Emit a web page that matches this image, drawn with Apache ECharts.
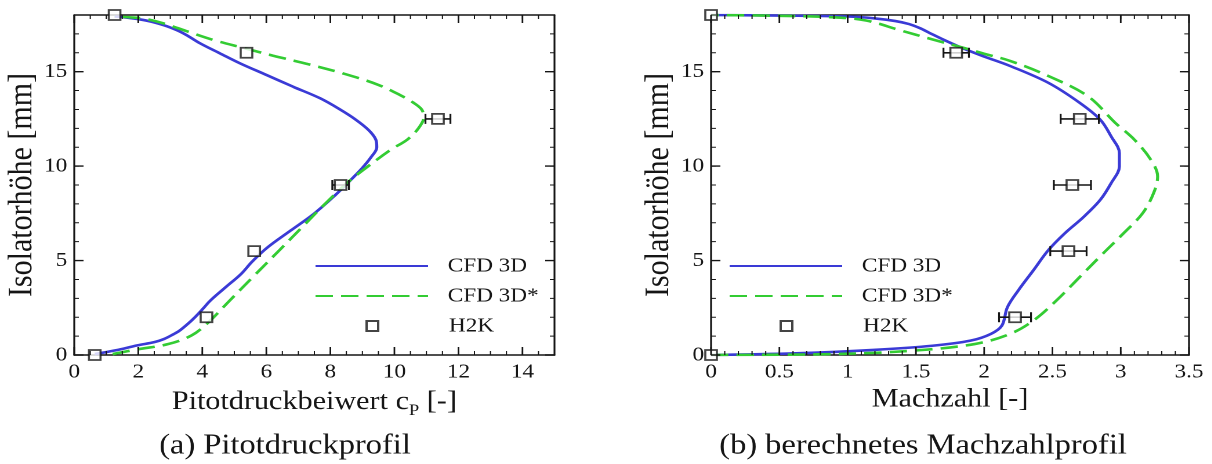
<!DOCTYPE html>
<html>
<head>
<meta charset="utf-8">
<script src="https://cdn.jsdelivr.net/npm/echarts@6/dist/echarts.min.js"></script>
<style>
  html, body { margin: 0; padding: 0; background: #fff; overflow: hidden; }
  /* the figure is laid out narrow and widened horizontally, like the printed plot */
  #chart { width: 1045px; height: 464px; transform: scaleX(1.16); transform-origin: 0 0; }
</style>
</head>
<body>
<div id="chart"></div>
<script>
// ---- Pitot pressure profile: [c_P, height mm] ----
const cpCFD3D = [
  [0.64,0.05],[1.3,0.25],[1.97,0.51],[2.5,0.68],[2.81,0.85],[3.1,1.1],[3.29,1.29],[3.55,1.65],
  [3.77,2.0],[4.02,2.45],[4.25,2.88],[4.73,3.59],[5.21,4.29],[5.56,4.95],[6.04,5.7],[6.76,6.59],
  [7.48,7.47],[8.08,8.35],[8.56,9.14],[8.97,9.85],[9.27,10.47],[9.45,11.0],[9.42,11.4],
  [9.2,11.9],[8.8,12.45],[8.3,13.0],[7.68,13.59],[6.84,14.2],[6.01,14.82],[5.18,15.44],
  [4.55,15.97],[3.93,16.5],[3.41,17.03],[2.9,17.4],[2.4,17.65],[2.0,17.78],[1.6,17.87],[1.26,17.92]
];
const cpCFD3Dstar = [
  [1.2,0.05],[1.98,0.3],[2.94,0.58],[3.66,1.03],[4.14,1.65],[4.86,2.89],[5.58,4.13],
  [6.41,5.55],[7.13,6.79],[7.85,8.03],[8.57,9.18],[9.17,9.98],[9.89,10.87],[10.4,11.4],
  [10.75,12.0],[10.92,12.6],[10.85,13.0],[10.6,13.35],[10.18,13.76],[9.5,14.3],[8.45,14.88],
  [7.3,15.4],[6.2,15.85],[5.3,16.25],[4.3,16.7],[3.5,17.15],[2.8,17.55],[2.2,17.8],
  [1.7,17.88],[1.26,17.93]
];
const cpH2K = [[0.64,0],[4.13,2],[5.62,5.5],[8.32,9],[11.36,12.5],[5.38,16],[1.26,18]];
const cpH2KErr = [0, 0, 0, 0.26, 0.39, 0, 0];

// ---- computed Mach number profile: [Ma, height mm] ----
const maCFD3D = [
  [0,0],[0.62,0.09],[1.19,0.27],[1.62,0.49],[1.9,0.76],[2.05,1.12],[2.13,1.56],[2.17,2.53],
  [2.25,3.42],[2.36,4.48],[2.47,5.55],[2.59,6.44],[2.73,7.32],[2.85,8.21],[2.93,9.1],
  [2.99,9.98],[2.99,10.69],[2.93,11.57],[2.85,12.46],[2.7,13.35],[2.47,14.41],[2.19,15.3],
  [2.0,15.8],[1.84,16.25],[1.7,16.7],[1.6,17.05],[1.53,17.3],[1.45,17.52],[1.35,17.68],
  [1.2,17.82],[1.0,17.92],[0.5,17.97],[0,18]
];
const maCFD3Dstar = [
  [0,0],[0.9,0.05],[1.48,0.23],[1.93,0.58],[2.19,1.12],[2.36,1.82],[2.53,2.89],[2.7,4.13],
  [2.87,5.37],[3.02,6.44],[3.16,7.5],[3.24,8.56],[3.27,9.45],[3.22,10.34],[3.1,11.4],
  [2.96,12.29],[2.76,13.7],[2.47,14.77],[2.19,15.57],[2.0,15.95],[1.86,16.24],[1.62,16.71],
  [1.38,17.2],[1.14,17.7],[0.9,17.88],[0.4,17.97],[0,18]
];
const maH2K = [[0,0],[2.226,2],[2.617,5.5],[2.646,9],[2.7,12.5],[1.795,16],[0,18]];
const maH2KErr = [0, 0.117, 0.133, 0.136, 0.14, 0.093, 0];

// ---- axis ranges and tick spacing ----
const heightRange = [0, 18];
const heightTicks = { major: 5, minor: 1 };
const cpRange = [0, 15];
const cpTicks = { major: 2, minor: 0.5 };
const maRange = [0, 3.5];
const maTicks = { major: 0.5, minor: 0.1 };

const SERIF = '"Liberation Serif", "Times New Roman", serif';
const INK = '#151515';
const BLUE = '#3a3ad6';
const GREEN = '#33cc33';

const GRIDS = [
  { left: 64, top: 15, width: 414, height: 340 },
  { left: 613, top: 15, width: 412, height: 340 }
];
const TICK_PX = { major: 8, minor: 4 };

const chart = echarts.init(document.getElementById('chart'), null, { devicePixelRatio: 2 });

const xAxes = [], yAxes = [];

function isMultiple(v, step, origin) {
  const r = Math.abs((v - origin) / step - Math.round((v - origin) / step));
  return r < 1e-6;
}

const NO_LABEL = { show: false, formatter: () => '' };

// Boxed frame: axis lines on all four sides, labels and titles bottom/left.
function frame(gridIndex, xr, xt, yr, yt, xName, yName) {
  const base = {
    type: 'value', gridIndex, splitLine: { show: false }, axisTick: { show: false },
    axisLine: { show: true, onZero: false, lineStyle: { color: INK, width: 1.6 } }
  };
  const xMajor = xAxes.length;
  ['bottom', 'top'].forEach((pos) => {
    xAxes.push(Object.assign({}, base, {
      position: pos, min: xr[0], max: xr[1], interval: xt.major,
      axisLabel: pos === 'bottom' ? {
        show: true, margin: 7, color: INK, fontFamily: SERIF, fontSize: 20,
        formatter: (v) => (isMultiple(v, xt.major, xr[0]) ? String(+v.toFixed(2)) : '')
      } : NO_LABEL,
      name: pos === 'bottom' ? xName : '',
      nameLocation: 'middle', nameGap: 30,
      nameTextStyle: {
        color: INK, fontFamily: SERIF, fontSize: 26,
        rich: { sub: { fontFamily: SERIF, fontSize: 16, color: INK, lineHeight: 34, verticalAlign: 'bottom' } }
      }
    }));
  });
  const yMajor = yAxes.length;
  ['left', 'right'].forEach((pos) => {
    yAxes.push(Object.assign({}, base, {
      position: pos, min: yr[0], max: yr[1], interval: yt.major,
      axisLabel: pos === 'left' ? {
        show: true, margin: 6, color: INK, fontFamily: SERIF, fontSize: 20,
        formatter: (v) => (isMultiple(v, yt.major, yr[0]) ? String(v) : '')
      } : NO_LABEL,
      name: pos === 'left' ? yName : '',
      nameLocation: 'middle', nameGap: 30,
      nameTextStyle: { color: INK, fontFamily: SERIF, fontSize: 30 }
    }));
  });
  return { x: xMajor, y: yMajor };
}

const fa = frame(0, cpRange, cpTicks, heightRange, heightTicks,
  'Pitotdruckbeiwert c{sub|P} [-]', 'Isolatorhöhe [mm]');
const fb = frame(1, maRange, maTicks, heightRange, heightTicks,
  'Machzahl [-]', 'Isolatorhöhe [mm]');

// Inward tick marks on all four edges as broken line segments in data space.
function tickSegments(grid, xr, yr, xStep, yStep, px) {
  const lx = px * (xr[1] - xr[0]) / grid.width;
  const ly = px * (yr[1] - yr[0]) / grid.height;
  const gap = ['-', '-'];
  const out = [];
  const steps = (r, step) => {
    const n = Math.round((r[1] - r[0]) / step), vs = [];
    for (let i = 0; i <= n; i++) vs.push(+(r[0] + i * step).toFixed(6));
    return vs;
  };
  steps(xr, xStep).forEach((v) => {
    out.push([v, yr[0]], [v, yr[0] + ly], gap, [v, yr[1]], [v, yr[1] - ly], gap);
  });
  steps(yr, yStep).forEach((v) => {
    out.push([xr[0], v], [xr[0] + lx, v], gap, [xr[1], v], [xr[1] - lx, v], gap);
  });
  return out;
}

function withErr(points, errs) {
  return points.map((p, i) => [p[0], p[1], errs[i]]);
}

function errorBars(params, api) {
  const e = api.value(2);
  if (!e) return null;
  const x = api.value(0), y = api.value(1);
  const a = api.coord([x - e, y]);
  const b = api.coord([x + e, y]);
  const cap = 5;
  const st = { stroke: INK, lineWidth: 1.6 };
  return {
    type: 'group',
    children: [
      { type: 'line', shape: { x1: a[0], y1: a[1], x2: b[0], y2: b[1] }, style: st },
      { type: 'line', shape: { x1: a[0], y1: a[1] - cap, x2: a[0], y2: a[1] + cap }, style: st },
      { type: 'line', shape: { x1: b[0], y1: b[1] - cap, x2: b[0], y2: b[1] + cap }, style: st }
    ]
  };
}

function panelSeries(gi, f, xr, xt, yr, yt, cfd, cfdStar, h2k, h2kErr) {
  const ax = { xAxisIndex: f.x, yAxisIndex: f.y };
  const g = GRIDS[gi];
  const tickLine = (name, step, ystep, px, w) => Object.assign({
    name, type: 'line', data: tickSegments(g, xr, yr, step, ystep, px),
    symbol: 'none', connectNulls: false, silent: true, z: 8, clip: false,
    lineStyle: { color: INK, width: w }
  }, ax);
  return [
    tickLine('Nebenstriche', xt.minor, yt.minor, TICK_PX.minor, 1),
    tickLine('Hauptstriche', xt.major, yt.major, TICK_PX.major, 1.4),
    Object.assign({
      name: 'CFD 3D', type: 'line', data: cfd, symbol: 'none', smooth: 0.35, z: 3,
      lineStyle: { color: BLUE, width: 2.6 }, itemStyle: { color: BLUE }
    }, ax),
    Object.assign({
      name: 'CFD 3D*', type: 'line', data: cfdStar, symbol: 'none', smooth: 0.35, z: 4,
      lineStyle: { color: GREEN, width: 2.6, type: [15, 7] }, itemStyle: { color: GREEN }
    }, ax),
    Object.assign({
      name: 'H2K-Fehler', type: 'custom', data: withErr(h2k, h2kErr), renderItem: errorBars, z: 5
    }, ax),
    Object.assign({
      name: 'H2K', type: 'scatter', data: h2k, symbol: 'rect', symbolSize: 10, z: 6,
      itemStyle: { color: '#ffffff', borderColor: INK, borderWidth: 1.8 }
    }, ax)
  ];
}

const legendText = { color: INK, fontFamily: SERIF, fontSize: 20 };

// line entries: a plain line sample, no symbol in the middle
function lineLegend(left) {
  return {
    orient: 'vertical', left: left, top: 251, itemWidth: 97, itemHeight: 10, itemGap: 10,
    selectedMode: false, data: ['CFD 3D', 'CFD 3D*'],
    itemStyle: { opacity: 0 },
    textStyle: Object.assign({ padding: [0, 0, 0, 12] }, legendText)
  };
}
// marker entry: the square centred under the line samples
function markerLegend(left) {
  return {
    orient: 'vertical', left: left, top: 311, itemWidth: 10, itemHeight: 10,
    selectedMode: false, data: ['H2K'],
    textStyle: Object.assign({ padding: [0, 0, 0, 56] }, legendText)
  };
}

chart.setOption({
  animation: false,
  backgroundColor: '#ffffff',
  grid: GRIDS,
  xAxis: xAxes,
  yAxis: yAxes,
  legend: [lineLegend(266), markerLegend(310), lineLegend(623), markerLegend(667)],
  series: [].concat(
    panelSeries(0, fa, cpRange, cpTicks, heightRange, heightTicks, cpCFD3D, cpCFD3Dstar, cpH2K, cpH2KErr),
    panelSeries(1, fb, maRange, maTicks, heightRange, heightTicks, maCFD3D, maCFD3Dstar, maH2K, maH2KErr)
  ),
  graphic: [
    { type: 'text', x: 245.7, y: 432, style: { text: '(a) Pitotdruckprofil', font: '28px ' + SERIF, fill: INK, align: 'center' } },
    { type: 'text', x: 795.7, y: 432, style: { text: '(b) berechnetes Machzahlprofil', font: '28px ' + SERIF, fill: INK, align: 'center' } }
  ]
});
</script>
</body>
</html>
